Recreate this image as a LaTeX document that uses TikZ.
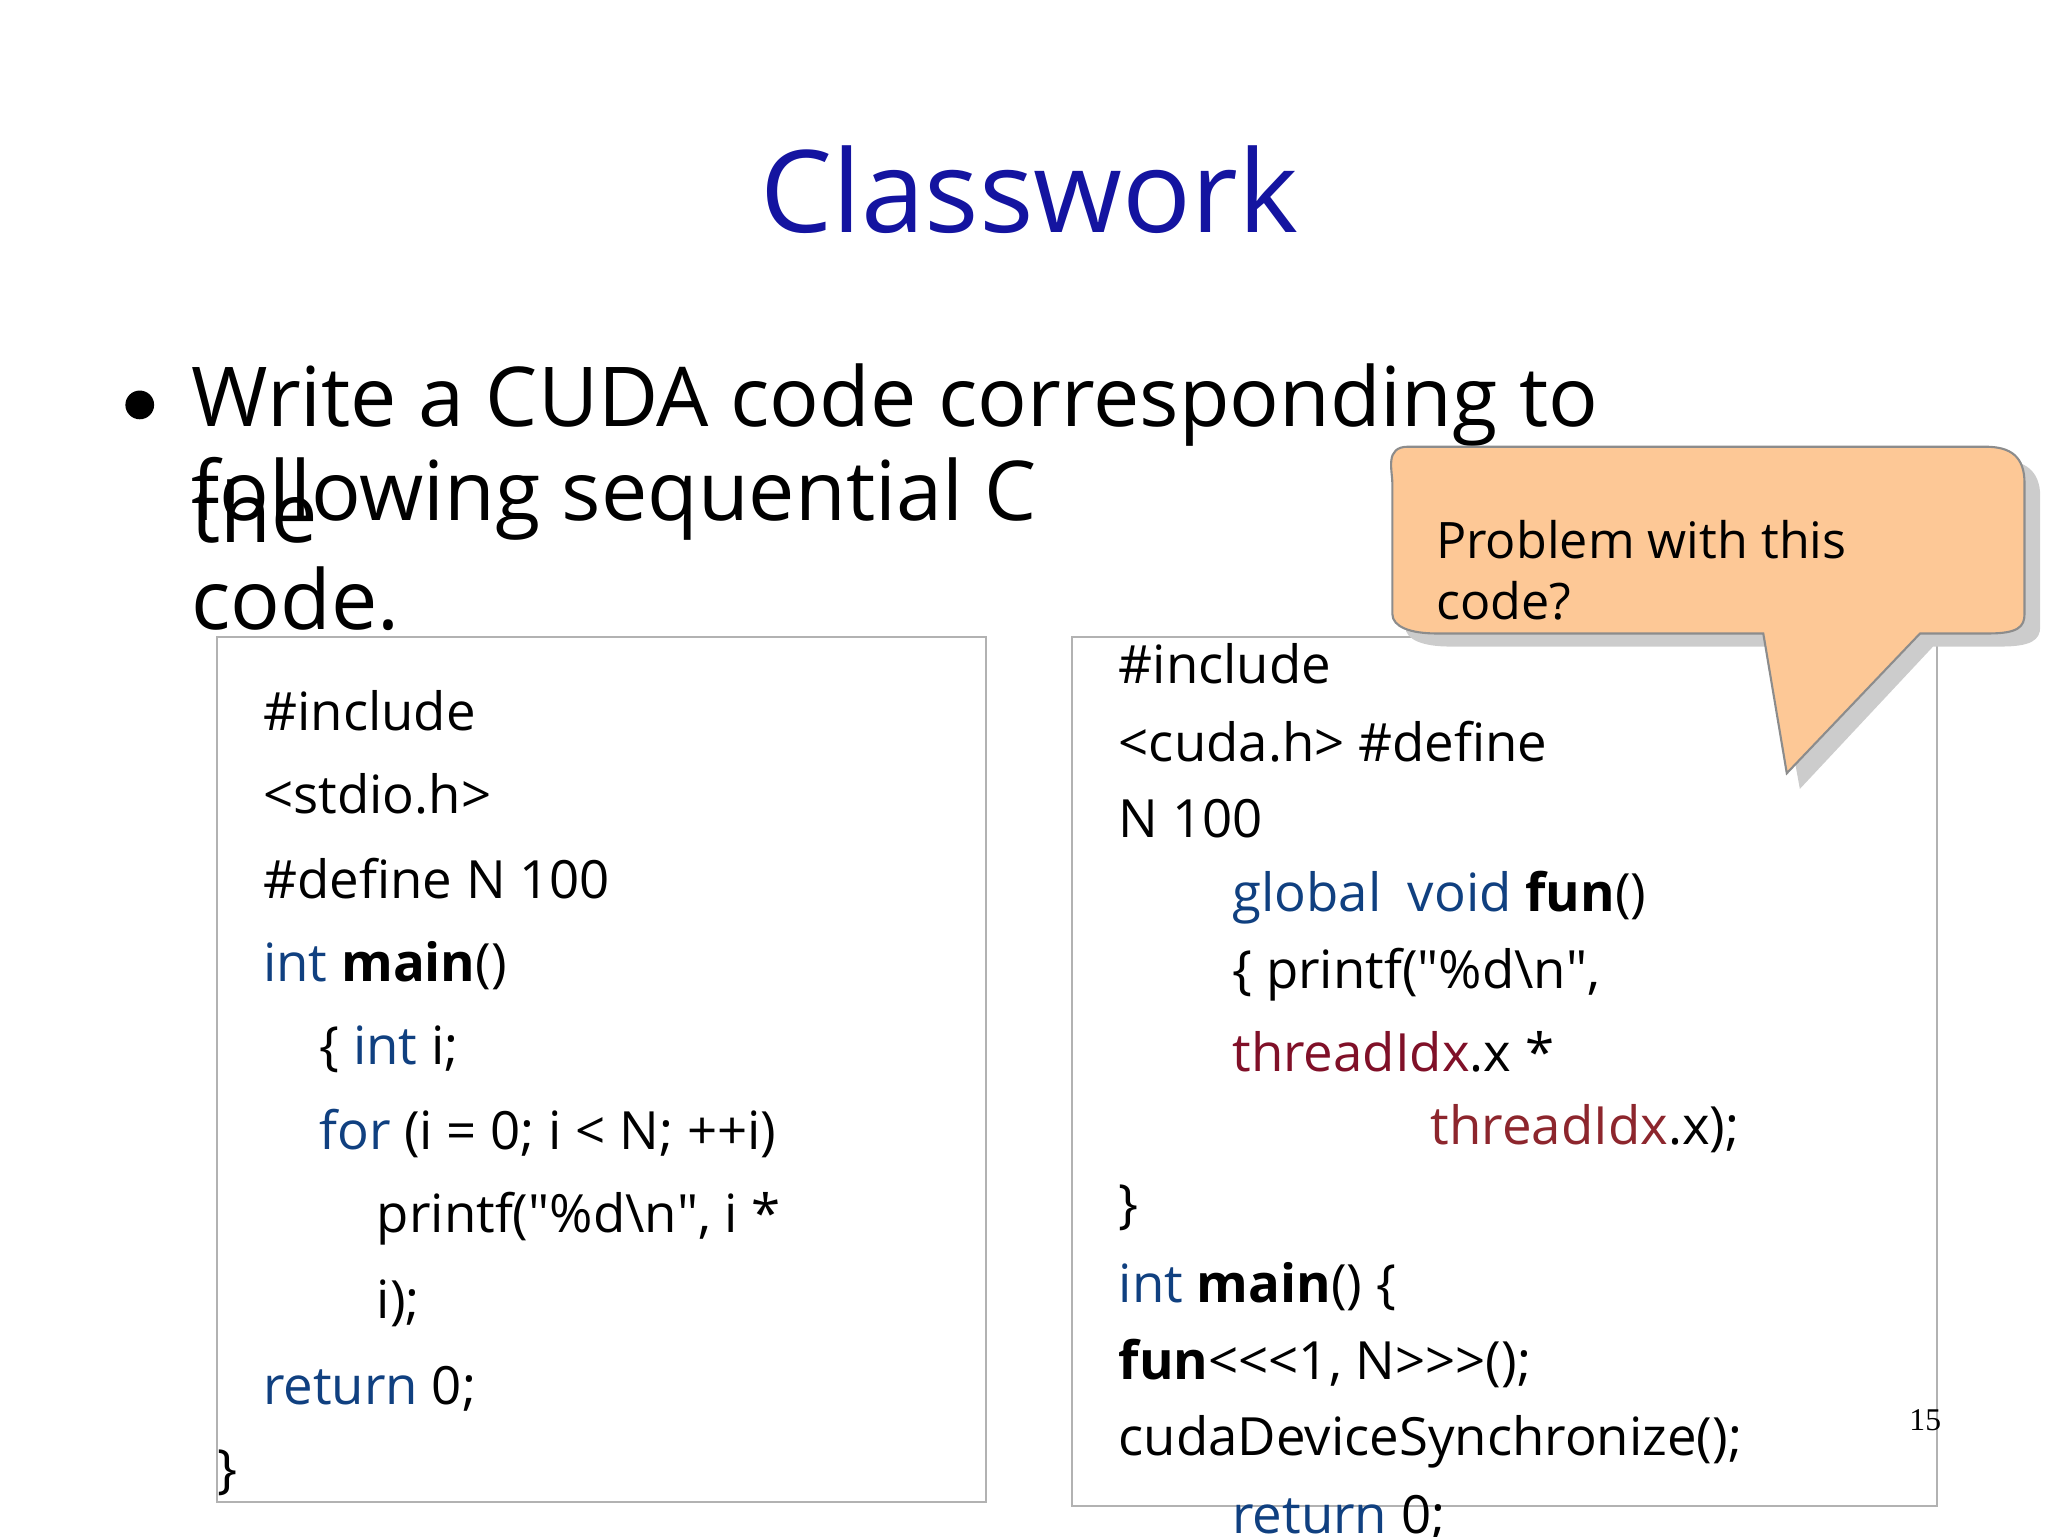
\documentclass[tikz,border=0pt]{standalone}
\usepackage{fontspec}
\setmainfont{Open Sans}
\newfontfamily\pagefont{Liberation Serif}
\usetikzlibrary{positioning}
\definecolor{titleblue}{RGB}{20,20,160}
\definecolor{kwblue}{RGB}{16,64,128}
\definecolor{idxred}{RGB}{128,16,40}
\definecolor{calloutfill}{RGB}{253,200,150}
\tikzset{
  code/.style={anchor=west, inner sep=0, font=\fontsize{15}{18}\selectfont},
  codebox/.style={draw=black!30, line width=0.6pt},
}
\newcommand{\kw}[1]{\textcolor{kwblue}{#1}}
\begin{document}
\begin{tikzpicture}[x=0.1306mm, y=-0.1306mm]
  \useasboundingbox (0,0) rectangle (1568,1176);
  % title and task
  \node [font=\fontsize{32.5}{36}\selectfont, text=titleblue] (title) at (788,145) {Classwork};
  \fill (107,310) circle (11) coordinate (dot);
  \node [anchor=west, inner sep=0, font=\fontsize{23.5}{26}\selectfont] (task1) at (146,310) {Write a CUDA code corresponding to};
  \node [anchor=west, inner sep=0, font=\fontsize{23.5}{26}\selectfont] (task2) at (146,382) {following sequential C};
  \node [anchor=west, inner sep=0, font=\fontsize{23.5}{26}\selectfont] (task2b) at (146,392) {the};
  \node [anchor=west, inner sep=0, font=\fontsize{23.5}{26}\selectfont] (task3) at (146,458) {code.};
  % left code box
  \draw [codebox] (166,488) rectangle (755,1150);
  \node [code] (l1) at (201,544) {\#include};
  \node [code] (l2) at (201,608) {<stdio.h>};
  \node [code] (l3) at (201,673) {\#define N 100};
  \node [code] (l4) at (201,739) {\kw{int} \textbf{main}()};
  \node [code] (l5) at (244,803) {\{ \kw{int} i;};
  \node [code] (l6) at (244,868) {\kw{for} (i = 0; i < N; ++i)};
  \node [code] (l7) at (288,933) {printf(\textquotedbl\%d\textbackslash n\textquotedbl, i *};
  \node [code] (l8) at (288,998) {i);};
  \node [code] (l9) at (201,1063) {\kw{return} 0;};
  \node [code] (l10) at (166,1128) {\}};
  % right code box
  \draw [codebox] (821,488) rectangle (1483,1153);
  \node [code] (r1) at (856,508) {\#include};
  \node [code] (r2) at (856,568) {<cuda.h> \#define};
  \node [code] (r3) at (856,627) {N 100};
  \node [code] (r4) at (943,687) {\kw{global\enspace void} \textbf{fun}()};
  \node [code] (r5) at (943,746) {\{ printf(\textquotedbl\%d\textbackslash n\textquotedbl,};
  \node [code] (r6) at (943,805) {\textcolor{idxred}{threadIdx}.x *};
  \node [code] (r7) at (1095,864) {\textcolor{idxred!80!brown}{threadIdx}.x);};
  \node [code] (r8) at (856,925) {\}};
  \node [code] (r9) at (856,985) {\kw{int} \textbf{main}() \{};
  \node [code] (r10) at (856,1044) {\textbf{fun}<{}<{}<1, N>{}>{}>();};
  \node [code] (r11) at (856,1104) {cudaDeviceSynchronize();};
  \node [code] (r12) at (943,1162) {\kw{return} 0;};
  \node [font=\fontsize{9}{10}\pagefont] (page) at (1474,1087) {15};
  % callout
  \fill [black!20] (1088,352) .. controls (1070,352) and (1074,370) .. (1076,380) -- (1076,480)
    .. controls (1076,490) and (1090,495) .. (1110,495) -- (1358,495) -- (1378,604) -- (1480,495)
    -- (1532,495) .. controls (1555,495) and (1562,490) .. (1562,480) -- (1562,380)
    .. controls (1562,360) and (1550,352) .. (1530,352) -- cycle;
  \draw [black!45, fill=calloutfill, line width=0.6pt] (1078,342) .. controls (1060,342) and (1066,360) .. (1066,370) -- (1066,470)
    .. controls (1066,480) and (1080,485) .. (1100,485) -- (1350,485) -- (1368,592) -- (1470,485)
    -- (1522,485) .. controls (1545,485) and (1550,480) .. (1550,470) -- (1550,370)
    .. controls (1550,350) and (1540,342) .. (1520,342) -- cycle;
  \node [code, font=\fontsize{14.3}{17}\selectfont] (q1) at (1099,413) {Problem with this};
  \node [code, font=\fontsize{14.3}{17}\selectfont] (q2) at (1099,460) {code?};
\end{tikzpicture}
\end{document}
